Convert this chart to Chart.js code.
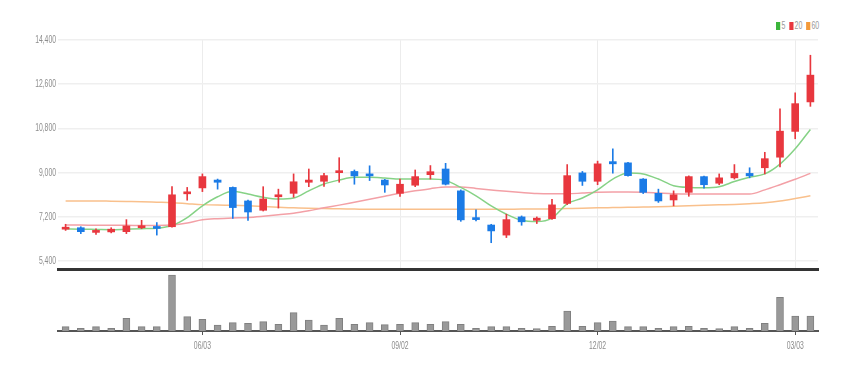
<!DOCTYPE html>
<html><head><meta charset="utf-8">
<script src="https://cdn.jsdelivr.net/npm/chart.js@4/dist/chart.umd.min.js"></script>
<style>
html,body{margin:0;padding:0;background:#fff;width:855px;height:372px;overflow:hidden;}
#wrapP{position:absolute;left:0;top:0;width:855px;height:273px;}
#wrapV{position:absolute;left:0;top:270px;width:855px;height:86px;}
#legend{position:absolute;top:20px;left:776px;font:10px 'Liberation Sans',sans-serif;color:#999;white-space:nowrap;transform:scaleX(0.7);transform-origin:0 0;}
#legend span.b{display:inline-block;width:6px;height:8px;margin-right:2px;vertical-align:-1px;}
#legend span.t{margin-right:5px;}
</style></head>
<body>
<div id="legend"><span class="b" style="background:#3bb53b"></span><span class="t">5</span><span class="b" style="background:#e8373e"></span><span class="t">20</span><span class="b" style="background:#f39a3a"></span><span class="t">60</span></div>
<div id="wrapP"><canvas id="price"></canvas></div>
<div id="wrapV"><canvas id="vol"></canvas></div>
<script>
const dates = ['04/01','04/08','04/15','04/22','04/29','05/06','05/13','05/20','05/27','06/03',
 '06/10','06/17','06/24','07/01','07/08','07/15','07/22','07/29','08/05','08/12',
 '08/19','08/26','09/02','09/09','09/16','09/23','09/30','10/07','10/14','10/21',
 '10/28','11/04','11/11','11/18','11/25','12/02','12/09','12/16','12/23','12/30',
 '01/06','01/13','01/20','01/27','02/03','02/10','02/17','02/24','03/03','03/10'];
const tickDates = ['06/03','09/02','12/02','03/03'];
const priceTicks = [5400,7200,9000,10800,12600,14400];

const open  = [6700,6760,6570,6590,6600,6760,6780,6800,8140,8380,
 8700,8400,7850,7470,8020,8160,8610,8650,9000,9050,
 8950,8700,8160,8490,8920,9150,8260,7170,6870,6460,
 7200,7060,7130,7750,8990,8650,9450,9400,8740,8160,
 7890,8200,8840,8570,8790,8970,9200,9630,10680,11880];
const high  = [6900,6800,6710,6760,7090,7060,6970,8430,8400,8950,
 8740,8420,7880,8430,8330,8950,9150,8970,9610,9110,
 9280,8730,8740,9110,9290,9380,8300,7490,6900,7310,
 7240,7200,7920,9330,9050,9470,9970,9420,8760,8330,
 8260,8870,8860,8950,9330,9200,9830,11600,12250,13780];
const low   = [6650,6520,6490,6550,6520,6720,6460,6780,7880,8230,
 8330,7140,7060,7440,7560,8000,8430,8440,8610,8530,
 8680,8200,8030,8430,8740,8500,7020,7040,6150,6360,
 6860,6930,7100,7700,8480,8510,8980,8860,8150,7790,
 7650,8040,8370,8510,8740,8790,8950,9230,10380,11700];
const close = [6780,6600,6650,6700,6830,6830,6730,8100,8210,8840,
 8610,7580,7400,7930,8100,8630,8700,8880,9050,8870,
 8870,8500,8530,8840,9040,8530,7080,7090,6630,7090,
 7000,7150,7690,8880,8650,9360,9360,8880,8200,7850,
 8100,8840,8510,8790,8970,8870,9570,10690,11810,12970];
const ma5  = [6720,6700,6690,6680,6700,6720,6740,6850,7170,7650,
 8020,8240,8130,8000,7930,7970,8260,8540,8700,8810,
 8810,8780,8740,8740,8740,8680,8400,8060,7650,7310,
 7060,7010,7150,7730,7970,8300,8740,8990,8950,8740,
 8470,8400,8390,8430,8640,8810,8950,9350,9970,10760];
const ma20 = [6870,6870,6860,6860,6860,6850,6850,6870,6950,7080,
 7130,7160,7180,7230,7290,7350,7450,7570,7680,7800,
 7920,8040,8160,8260,8350,8420,8420,8360,8300,8240,
 8190,8150,8140,8140,8170,8200,8210,8210,8200,8170,
 8140,8130,8130,8130,8130,8130,8300,8510,8730,8970];
const ma60 = [7850,7850,7850,7840,7830,7820,7800,7780,7740,7700,
 7680,7670,7650,7620,7590,7570,7550,7540,7530,7520,
 7510,7510,7510,7510,7510,7510,7510,7510,7510,7510,
 7520,7520,7530,7540,7550,7570,7580,7590,7600,7610,
 7630,7650,7670,7690,7710,7740,7780,7850,7950,8060];
const volume = [43,27,43,27,127,43,43,560,143,117,
 60,83,77,93,67,183,110,60,127,67,
 83,63,67,83,67,93,67,27,43,43,
 27,23,47,200,47,83,100,43,43,27,
 43,47,27,23,43,27,77,337,150,150];

const UP='#e8373e', DOWN='#1b7be6';
const candleColor = open.map((o,i)=> close[i]>=o ? UP : DOWN);
const bodies = open.map((o,i)=>[o, close[i]]);
const wicks = low.map((l,i)=>[l, high[i]]);
const tickIdx = tickDates.map(d=>dates.indexOf(d));
const LABEL_FONT = "11px 'Liberation Sans', Arial, sans-serif";
const SQUEEZE = 0.62;

function filterTicks(scale){ scale.ticks = tickIdx.map(i=>({value:i})); }

function drawText(ctx, text, x, y, align){
  ctx.save();
  ctx.font = LABEL_FONT;
  ctx.fillStyle = '#8c8c8c';
  ctx.textBaseline = 'middle';
  ctx.textAlign = align;
  ctx.translate(x, y);
  ctx.scale(SQUEEZE, 1);
  ctx.fillText(text, 0, 0);
  ctx.restore();
}

const priceLabels = {
  id:'priceLabels',
  afterDraw(chart){
    const ys = chart.scales.y;
    priceTicks.forEach(v=>{
      drawText(chart.ctx, v.toLocaleString('en-US'), 56, ys.getPixelForValue(v), 'right');
    });
  }
};
const dateLabels = {
  id:'dateLabels',
  afterDraw(chart){
    const xs = chart.scales.x;
    const y = chart.chartArea.bottom + 15;
    tickIdx.forEach(i=>{
      drawText(chart.ctx, dates[i], xs.getPixelForValue(i), y, 'center');
    });
  }
};

new Chart(document.getElementById('price'), {
  type:'bar',
  data:{labels:dates, datasets:[
    {type:'line', data:ma60, borderColor:'#f9c08c', borderWidth:1.5, pointRadius:0, cubicInterpolationMode:'monotone', order:5},
    {type:'line', data:ma20, borderColor:'#f3a0a6', borderWidth:1.5, pointRadius:0, cubicInterpolationMode:'monotone', order:4},
    {type:'line', data:ma5, borderColor:'#86d286', borderWidth:1.5, pointRadius:0, cubicInterpolationMode:'monotone', order:3},
    {data:wicks, backgroundColor:candleColor, barThickness:1, grouped:false, order:2},
    {data:bodies, backgroundColor:candleColor, barThickness:7, grouped:false, minBarLength:2, order:1}
  ]},
  plugins:[priceLabels],
  options:{
    responsive:true, maintainAspectRatio:false, animation:false,
    layout:{padding:{top:40,right:37,left:0,bottom:0}},
    plugins:{legend:{display:false}, tooltip:{enabled:false}},
    scales:{
      x:{
        afterBuildTicks:filterTicks,
        afterFit:(s)=>{s.height=4;},
        ticks:{display:false},
        grid:{offset:false, color:'#ececec', lineWidth:1, drawTicks:false},
        border:{color:'#333', width:3}
      },
      y:{
        min:5080, max:14400,
        afterBuildTicks:(s)=>{s.ticks=priceTicks.map(v=>({value:v}));},
        afterFit:(s)=>{s.width=58;},
        ticks:{display:false},
        grid:{color:'#efefef', lineWidth:1.5, drawTicks:false},
        border:{display:false}
      }
    }
  }
});

new Chart(document.getElementById('vol'), {
  type:'bar',
  data:{labels:dates, datasets:[
    {data:volume, backgroundColor:'#999', borderColor:'#808080', borderWidth:1, barThickness:7}
  ]},
  plugins:[dateLabels],
  options:{
    responsive:true, maintainAspectRatio:false, animation:false,
    layout:{padding:{top:2,right:37,left:58,bottom:0}},
    plugins:{legend:{display:false}, tooltip:{enabled:false}},
    scales:{
      x:{
        afterBuildTicks:filterTicks,
        afterFit:(s)=>{s.height=25;},
        ticks:{display:false},
        grid:{offset:false, drawOnChartArea:false, drawTicks:true, tickLength:4, color:'#555', lineWidth:1},
        border:{color:'#555', width:2}
      },
      y:{display:false, min:0, max:590}
    }
  }
});
</script>
</body></html>
